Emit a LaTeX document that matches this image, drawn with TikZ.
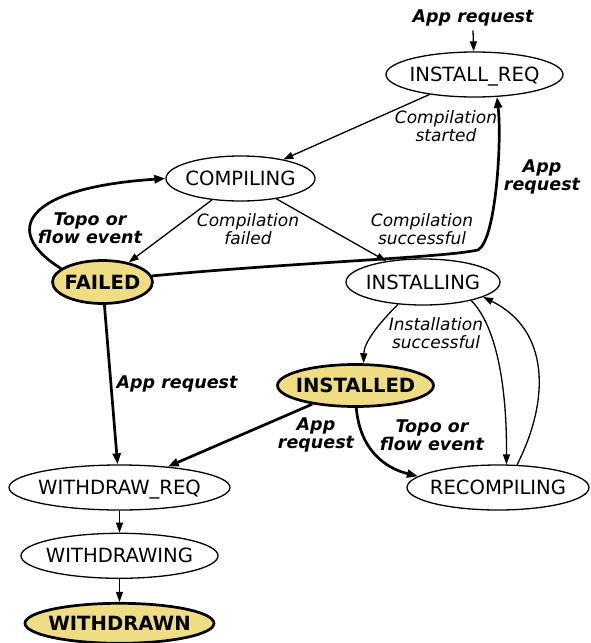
\documentclass[tikz,border=0pt]{standalone}
\usepackage{fontspec}
\setmainfont{DejaVu Sans}
\usetikzlibrary{arrows.meta,positioning,shapes.geometric}
\definecolor{goldfill}{RGB}{238,221,130}
\newcommand{\statefont}{\fontsize{19.6}{23}\selectfont}
\newcommand{\labelfont}{\fontsize{17}{18}\selectfont\itshape}
\newcommand{\eventfont}{\fontsize{17.5}{18}\selectfont\bfseries\itshape}

\tikzset{
  phase/.style={ellipse, draw, line width=1.3pt, inner sep=0pt, minimum width=#1, minimum height=45pt,
    text height=14pt, text depth=0pt, font=\statefont,
    execute at begin node={\hbox to 0pt\bgroup\hss}, execute at end node={\hss\egroup}},
  endphase/.style={phase=#1, fill=goldfill, line width=2.7pt, font=\statefont\bfseries},
  trans/.style={line width=1.3pt, -{Triangle[length=10pt,width=7pt]}},
  event/.style={line width=2.7pt, -{Triangle[length=11pt,width=8pt]}},
  elabel/.style={font=\labelfont, align=center, inner sep=0pt},
  ebold/.style={font=\eventfont, align=center, inner sep=0pt},
}

\begin{document}
\begin{tikzpicture}[x=1pt, y=-1pt]
  \useasboundingbox (0,0) rectangle (590,643);

  % states
  \node[phase=177pt] (ireq) at (474.5,74.5) {INSTALL\_REQ};
  \node[phase=149pt] (comp) at (240.5,178.5) {COMPILING};
  \node[endphase=100pt, minimum height=43pt] (failed) at (102.5,282) {FAILED};
  \node[phase=154pt, minimum height=46pt] (inst) at (423,282) {INSTALLING};
  \node[endphase=156pt, minimum height=42pt] (installed) at (355.5,385.5) {INSTALLED};
  \node[phase=221pt] (wreq) at (119.5,487.5) {WITHDRAW\_REQ};
  \node[phase=182pt] (rec) at (498,487.5) {RECOMPILING};
  \node[phase=197pt, below=22pt of wreq] (wing) {WITHDRAWING};
  \node[endphase=189pt, minimum height=40pt, below=23pt of wing] (wn) {WITHDRAWN};

  % labels
  \node[ebold] (lstart) at (473,18) {App request};
  \node[elabel] (lstarted) at (446,126) {Compilation\\started};
  \node[ebold] (lreqa) at (542,177) {App\\request};
  \node[ebold] (ltopoa) at (90,228) {Topo or\\flow event};
  \node[elabel] (lfailed) at (248,229) {Compilation\\failed};
  \node[elabel] (lsucc) at (422,229) {Compilation\\successful};
  \node[elabel] (linst) at (436,333) {Installation\\successful};
  \node[ebold] (lreqb) at (177,384) {App request};
  \node[ebold] (lreqc) at (316,435) {App\\request};
  \node[ebold] (ltopob) at (432,435) {Topo or\\flow event};

  % transitions
  \draw[trans] ([yshift=-4pt]lstart.south) -- (ireq);
  \draw[trans] (ireq) -- (comp);
  \draw[trans] (comp) -- (failed);
  \draw[trans] (comp) -- (inst);
  \draw[event] (failed.7) .. controls (300,262) and (440,258) .. (478,250)
    .. controls (496,240) and (502,140) .. (ireq.-45);
  \draw[event] (failed.162) .. controls (2,232) and (22,188) .. (comp.west);
  \draw[event] (failed) -- (wreq);
  \draw[trans] (inst.-138) .. controls (380,322) and (364,342) .. (installed.70);
  \draw[trans] (inst.-21) .. controls (500,330) and (507,400) .. (rec.70);
  \draw[trans] (rec.50) .. controls (550,400) and (550,330) .. (inst.-14);
  \draw[event] (installed) -- (wreq);
  \draw[event] (installed.-88) .. controls (360,450) and (385,468) .. (rec.172);
  \draw[trans] (wreq) -- (wing);
  \draw[trans] (wing) -- (wn);
\end{tikzpicture}
\end{document}
